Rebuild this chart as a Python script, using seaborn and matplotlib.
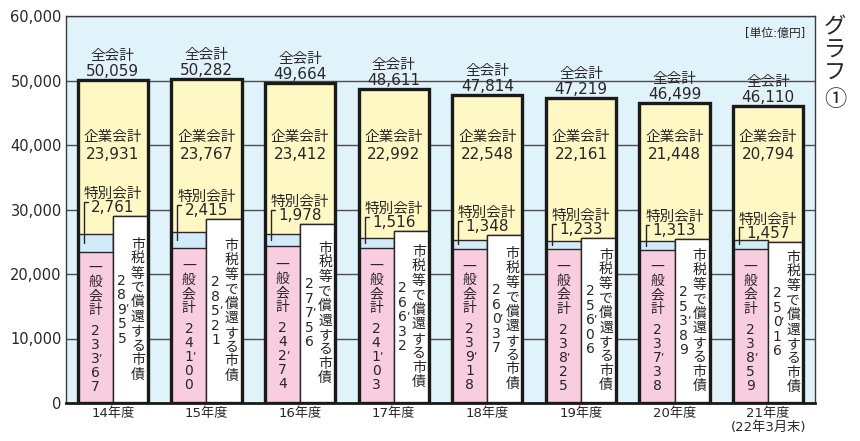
import matplotlib
matplotlib.use("Agg")
import matplotlib.pyplot as plt
import numpy as np
import pandas as pd
import seaborn as sns

# ---------------- data ----------------
years = ["14年度", "15年度", "16年度", "17年度", "18年度", "19年度", "20年度",
         "21年度\n(22年3月末)"]
total_all = [50059, 50282, 49664, 48611, 47814, 47219, 46499, 46110]
corporate = [23931, 23767, 23412, 22992, 22548, 22161, 21448, 20794]
special = [2761, 2415, 1978, 1516, 1348, 1233, 1313, 1457]
general = [23367, 24100, 24274, 24103, 23918, 23825, 23738, 23859]
city_bonds = [28955, 28521, 27756, 26632, 26037, 25606, 25389, 25016]

label_total = "全会計"
label_corp = "企業会計"
label_special = "特別会計"
label_general = "一般会計"
label_bonds = "市税等で償還する市債"
y_ticks = [0, 10000, 20000, 30000, 40000, 50000, 60000]
unit_label = "[単位:億円]"
graph_title = ["グ", "ラ", "フ", "①"]

# ---------------- style ----------------
sns.set_style("white")
plt.rcParams["font.family"] = ["DejaVu Sans", "Noto Sans CJK JP"]

INK = "#2a2627"
BG = "#e0f2fa"
YELLOW = "#fff8c4"
PINK = "#f8cde0"
LBLUE = "#d2ebf8"

FW, FH, DPI = 860, 441, 100
fig = plt.figure(figsize=(FW / DPI, FH / DPI), dpi=DPI)
L, R, T, B = 66, 815, 16, 403
ax = fig.add_axes([L / FW, 1 - B / FH, (R - L) / FW, (B - T) / FH])
ax.set_facecolor(BG)

n = len(years)
YMAX = y_ticks[-1]
XPX = (R - L) / n          # pixels per category
YPX = (B - T) / YMAX       # pixels per value unit
PT = 72 / DPI              # points per pixel

df = pd.DataFrame({"year": years, "total": total_all, "corp": corporate,
                   "special": special, "general": general, "bonds": city_bonds})
df["gen_spec"] = df["general"] + df["special"]

BAR_W = 0.75

# full yellow bar (total)
sns.barplot(data=df, x="year", y="total", color=YELLOW, saturation=1,
            width=BAR_W, errorbar=None, linewidth=0, ax=ax)

# left half: general+special (light blue), right half: city bonds (white)
halves1 = pd.DataFrame({"year": years * 2, "side": ["L"] * n + ["R"] * n,
                        "value": list(df["gen_spec"]) + city_bonds})
sns.barplot(data=halves1, x="year", y="value", hue="side", hue_order=["L", "R"],
            palette=[LBLUE, "white"], saturation=1, width=BAR_W, dodge=True,
            errorbar=None, edgecolor=INK, linewidth=1.0, legend=False, ax=ax)

# left half: general (pink)
halves2 = pd.DataFrame({"year": years * 2, "side": ["L"] * n + ["R"] * n,
                        "value": general + city_bonds})
sns.barplot(data=halves2, x="year", y="value", hue="side", hue_order=["L", "R"],
            palette=[PINK, "white"], saturation=1, width=BAR_W, dodge=True,
            errorbar=None, edgecolor=INK, linewidth=1.0, legend=False, ax=ax)

# thick outline of total
sns.barplot(data=df, x="year", y="total", fill=False, color="#1a1a1a",
            width=BAR_W, errorbar=None, linewidth=2.4, ax=ax)

# ---------------- axes ----------------
ax.set_ylim(0, YMAX)
ax.set_xlim(-0.5, n - 0.5)
ax.set_yticks(y_ticks)
ax.set_yticklabels([f"{v:,}" for v in y_ticks], fontsize=10.5, color=INK)
ax.set_xticks(range(n))
ax.set_xticklabels(years, fontsize=9.5, color=INK, linespacing=1.1)
ax.tick_params(axis="both", length=0)
ax.tick_params(axis="y", pad=3)
ax.tick_params(axis="x", pad=3)
ax.set_xlabel("")
ax.set_ylabel("")
ax.yaxis.grid(True, color="#4d4d4d", linewidth=1.0)
ax.xaxis.grid(False)
ax.set_axisbelow(True)
for s in ax.spines.values():
    s.set_color("#3a3a3a")
    s.set_linewidth(1.0)
ax.spines["bottom"].set_linewidth(2.0)
ax.spines["bottom"].set_color("#1a1a1a")


def vertical(x, y, items, dx=0.0, fs=10):
    """items: list of (char, advance_px); ',' drawn with no advance."""
    placed = []
    cur = 0.0
    last_adv = 0.0
    for ch, adv in items:
        if ch == ",":
            placed.append((ch, cur - last_adv / 2 + 1, dx + 5))
        else:
            placed.append((ch, cur, dx))
            cur += adv
            last_adv = adv
    span = cur - last_adv
    for ch, pos, ddx in placed:
        yoff = span / 2 - pos
        ax.annotate(ch, xy=(x, y), xytext=(ddx * PT, yoff * PT),
                    textcoords="offset points", ha="center", va="center",
                    fontsize=fs if ch != "," else fs - 2, color=INK,
                    annotation_clip=False)


half = BAR_W / 4
for i in range(n):
    tot, corp, sp, g, bd = (total_all[i], corporate[i], special[i],
                            general[i], city_bonds[i])
    # total labels
    ax.annotate(f"{tot:,}", xy=(i, tot), xytext=(0, 4 * PT),
                textcoords="offset points", ha="center", va="baseline",
                fontsize=11, color=INK)
    ax.annotate(label_total, xy=(i, tot), xytext=(0, 20 * PT),
                textcoords="offset points", ha="center", va="baseline",
                fontsize=10.5, color=INK)
    # corporate labels
    ax.annotate(label_corp, xy=(i, 40000), xytext=(0, 4 * PT),
                textcoords="offset points", ha="center", va="baseline",
                fontsize=10.5, color=INK)
    ax.annotate(f"{corp:,}", xy=(i, 40000), xytext=(0, -14 * PT),
                textcoords="offset points", ha="center", va="baseline",
                fontsize=11, color=INK)
    # special labels with leader
    lead_x = i - 0.31
    lead_y = g + sp / 2
    dx_px = 0.31 * XPX
    dy_px = (bd - lead_y) * YPX + 4
    ax.annotate(f"{sp:,}", xy=(lead_x, lead_y), xytext=(dx_px * PT, dy_px * PT),
                textcoords="offset points", ha="center", va="baseline",
                fontsize=11, color=INK,
                arrowprops=dict(arrowstyle="-", color=INK, lw=1.0,
                                connectionstyle="angle,angleA=0,angleB=90,rad=0",
                                relpos=(0, 0.88), shrinkA=0, shrinkB=0))
    ax.annotate(label_special, xy=(i, bd), xytext=(0, 18 * PT),
                textcoords="offset points", ha="center", va="baseline",
                fontsize=10.5, color=INK)
    # general (pink) vertical text
    items = [(c, 14) for c in label_general[:-1]] + [(label_general[-1], 21)]
    items += [(c, 14) for c in f"{g:,}"]
    vertical(i - half, g / 2, items)
    # bonds (white) vertical text: two columns
    vertical(i + half, bd / 2, [(c, 14.4) for c in label_bonds], dx=7.5)
    vertical(i + half, bd / 2, [(c, 14.5) for c in f"{bd:,}"], dx=-8.5)

# unit label
ax.text(0.987, 0.955, unit_label, transform=ax.transAxes, ha="right",
        va="center", fontsize=8.5, color=INK)

# vertical graph title
title_y = [27, 50, 73, 99]
for ch, yy in zip(graph_title, title_y):
    fig.text(835 / FW, 1 - yy / FH, ch, ha="center", va="center", fontsize=16,
             color=INK, family=["Noto Sans CJK JP", "DejaVu Sans"])

fig.savefig("out.png", dpi=DPI)
